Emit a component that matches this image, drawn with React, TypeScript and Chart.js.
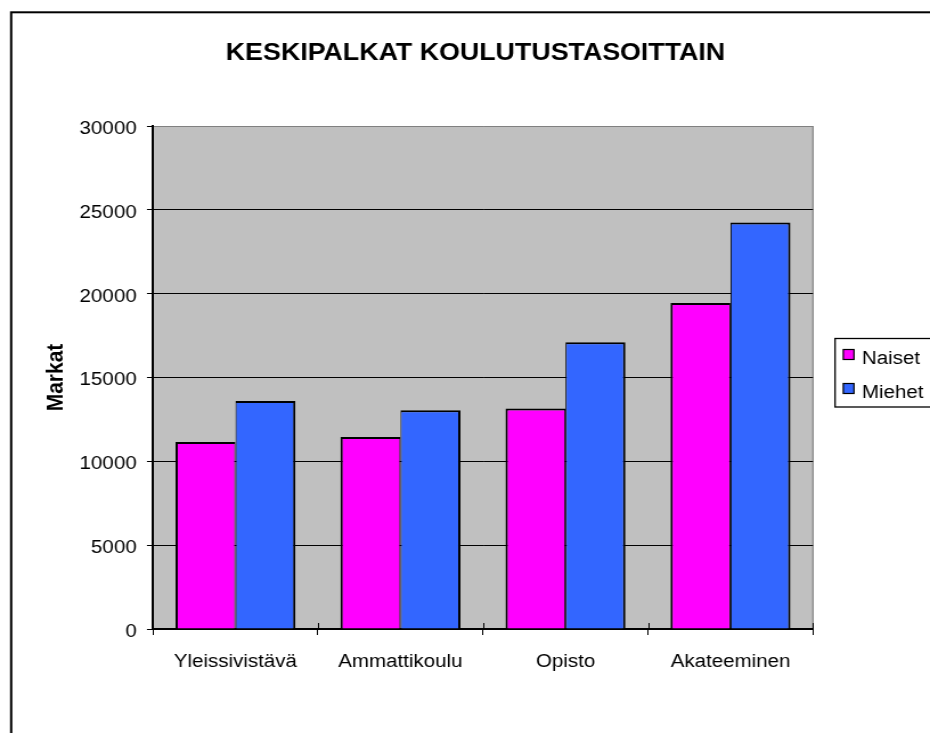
import React, { useEffect, useRef } from 'react';
import { Chart, registerables } from 'chart.js';

Chart.register(...registerables);

// ---- data ----
const categories = ['Yleissivistävä', 'Ammattikoulu', 'Opisto', 'Akateeminen'];
const seriesNames = ['Naiset', 'Miehet'];
const naiset = [11150, 11450, 13150, 19450];
const miehet = [13600, 13050, 17100, 24250];
const yTicks = [0, 5000, 10000, 15000, 20000, 25000, 30000];
const titleText = 'KESKIPALKAT KOULUTUSTASOITTAIN';
const yTitle = 'Markat';

// ---- layout (canvas drawn narrower, then stretched horizontally like the reference) ----
const W = 816;
const H = 733;
const FONT = '"Liberation Sans", Arial, Helvetica, sans-serif';
const PLOT_LEFT = 134.2;
const PLOT_RIGHT = 713.3;
const PLOT_TOP = 126;
const X_AXIS_H = 104;

const decor = {
  id: 'decor',
  beforeDraw(chart: any) {
    const { ctx, chartArea: a } = chart;
    ctx.save();
    ctx.fillStyle = '#ffffff';
    ctx.fillRect(0, 0, chart.width, chart.height);
    ctx.fillStyle = '#C0C0C0';
    ctx.fillRect(a.left, a.top, a.right - a.left, a.bottom - a.top);
    ctx.strokeStyle = '#808080';
    ctx.lineWidth = 1.2;
    ctx.beginPath();
    ctx.moveTo(a.right, a.top);
    ctx.lineTo(a.right, a.bottom);
    ctx.stroke();
    ctx.restore();
  },
  afterDraw(chart: any) {
    const { ctx, chartArea: a } = chart;
    ctx.save();
    // outer frame
    ctx.strokeStyle = '#000';
    ctx.lineWidth = 2;
    ctx.strokeRect(9.8, 12.3, W + 20, H + 20);

    // title
    ctx.fillStyle = '#000';
    ctx.font = `bold 23.5px ${FONT}`;
    ctx.textAlign = 'center';
    ctx.textBaseline = 'alphabetic';
    ctx.fillText(titleText, 417.2, 60);

    // inner part of the crossing x-axis tick marks
    const xs = chart.scales.x;
    ctx.lineWidth = 1;
    ctx.strokeStyle = '#000';
    for (let i = 0; i <= categories.length; i++) {
      const x = Math.round(xs.getPixelForValue(i - 0.5)) + 0.5;
      ctx.beginPath();
      ctx.moveTo(x, a.bottom - 6);
      ctx.lineTo(x, a.bottom);
      ctx.stroke();
    }

    // legend
    const lx = 732.7;
    const ly = 338.5;
    ctx.fillStyle = '#fff';
    ctx.fillRect(lx, ly, W - lx + 20, 68.5);
    ctx.lineWidth = 1.3;
    ctx.strokeStyle = '#000';
    ctx.strokeRect(lx, ly, W - lx + 20, 68.5);
    ctx.font = `18px ${FONT}`;
    ctx.textAlign = 'left';
    chart.data.datasets.forEach((ds: any, i: number) => {
      const sy = 349.5 + i * 34;
      ctx.fillStyle = ds.backgroundColor;
      ctx.fillRect(739.9, sy, 9.4, 10);
      ctx.lineWidth = 1.2;
      ctx.strokeRect(739.9, sy, 9.4, 10);
      ctx.fillStyle = '#000';
      ctx.fillText(ds.label, 756.3, sy + 14.5);
    });
    ctx.restore();
  },
};

export default function App() {
  const ref = useRef<HTMLCanvasElement>(null);
  useEffect(() => {
    document.body.style.margin = '0';
    Chart.defaults.font.family = FONT;
    const chart = new Chart(ref.current as HTMLCanvasElement, {
      type: 'bar',
      data: {
        labels: categories,
        datasets: [
          {
            label: seriesNames[0],
            data: naiset,
            backgroundColor: '#FF00FF',
            borderColor: '#000',
            borderWidth: { top: 2, left: 2, right: 1, bottom: 0 },
          },
          {
            label: seriesNames[1],
            data: miehet,
            backgroundColor: '#3366FF',
            borderColor: '#000',
            borderWidth: { top: 2, left: 1, right: 2, bottom: 0 },
          },
        ],
      },
      options: {
        responsive: false,
        animation: false,
        devicePixelRatio: 1,
        events: [],
        layout: { padding: { left: 0, top: PLOT_TOP, right: W - PLOT_RIGHT, bottom: 0 } },
        plugins: {
          legend: { display: false },
          title: { display: false },
          tooltip: { enabled: false },
        },
        datasets: { bar: { categoryPercentage: 0.727, barPercentage: 1 } },
        scales: {
          x: {
            offset: true,
            grid: {
              display: true,
              drawOnChartArea: false,
              drawTicks: true,
              tickLength: 6,
              color: '#000',
              lineWidth: 1,
              offset: true,
            },
            border: { display: true, color: '#000', width: 2 },
            ticks: {
              font: { size: 18, family: FONT },
              color: '#000',
              padding: 16,
              maxRotation: 0,
              autoSkip: false,
            },
            afterFit: (s: any) => {
              s.height = X_AXIS_H;
            },
          },
          y: {
            min: 0,
            max: 30000,
            afterBuildTicks: (s: any) => {
              s.ticks = yTicks.map((v) => ({ value: v }));
            },
            ticks: {
              font: { size: 18, family: FONT },
              color: '#000',
              padding: 9,
              labelOffset: 3,
              callback: (v: any) => String(v),
            },
            grid: {
              color: (c: any) => (c.tick && c.tick.value === 30000 ? '#808080' : '#000'),
              tickColor: '#000',
              tickLength: 5.3,
              lineWidth: 1,
            },
            border: { display: true, color: '#000', width: 2 },
            title: {
              display: true,
              text: yTitle,
              color: '#000',
              font: { size: 21, weight: 'bold', family: FONT },
              padding: { top: 36.2, bottom: 0 },
            },
            afterFit: (s: any) => {
              s.width = PLOT_LEFT;
            },
          },
        },
      } as any,
      plugins: [decor],
    });
    return () => chart.destroy();
  }, []);
  return (
    <canvas
      ref={ref}
      width={W}
      height={H}
      style={{ width: '930px', height: '733px', display: 'block' }}
    />
  );
}
